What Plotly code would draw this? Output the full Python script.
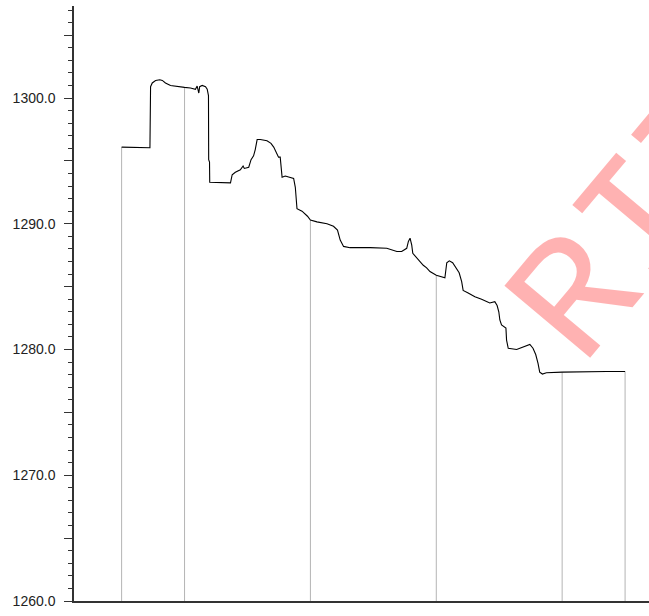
import plotly.graph_objects as go

# minutes after 09:30
minutes = [0, 13.5, 13.8, 14.6, 16.2, 18.2, 19.4, 20.9, 23.3, 26.5, 30, 32.8, 35.2, 36.0, 36.5, 36.8,
           37.2, 38.4, 40.0, 40.8, 41.4, 41.5, 41.9, 42.0, 51.9, 52.7, 54.2, 56.6, 57.9, 58.5, 60.6,
           61.7, 62.9, 63.7, 64.6, 66.1, 69.3, 71.2, 72.5, 73.7, 74.8, 75.6, 76.5, 78.0, 80.4, 82.0,
           82.8, 83.6, 86.0, 88.6, 90, 93.1, 97.9, 101.0, 102.9, 104.2, 105.8, 108.9, 118.5, 126.4,
           131.2, 133.5, 135.9, 136.7, 137.5, 138.3, 138.8, 140.7, 142.2, 143.8, 145.4, 147.0, 150,
           154.1, 155.0, 156.2, 157.8, 159.4, 160.9, 162.1, 162.8, 165.2, 168.4, 171.6, 174.0, 175.5,
           177.9, 179.0, 179.8, 180.3, 181.1, 183.2, 183.5, 184.3, 188.3, 189.8, 192.2, 194.6, 196.1,
           197.4, 198.5, 199.3, 200.6, 202.5, 210, 221.6, 231.1, 240]
price = [1296.1, 1296.05, 1300.9, 1301.2, 1301.4, 1301.45, 1301.4, 1301.2, 1301.0, 1300.9, 1300.85,
         1300.8, 1300.7, 1300.95, 1300.6, 1300.4, 1300.9, 1301.0, 1300.9, 1300.7, 1300.2, 1295.1,
         1294.9, 1293.3, 1293.25, 1293.9, 1294.1, 1294.3, 1294.6, 1294.4, 1294.5, 1295.1, 1295.4,
         1295.9, 1296.7, 1296.7, 1296.6, 1296.4, 1296.1, 1295.7, 1295.3, 1295.3, 1293.7, 1293.8,
         1293.7, 1293.6, 1292.9, 1291.2, 1291.0, 1290.6, 1290.3, 1290.15, 1290.0, 1289.8, 1289.5,
         1288.7, 1288.2, 1288.1, 1288.1, 1288.05, 1287.8, 1287.8, 1288.05, 1288.6, 1288.85, 1288.3,
         1287.65, 1287.3, 1287.0, 1286.7, 1286.5, 1286.2, 1285.9, 1285.7, 1286.9, 1287.05, 1286.9,
         1286.5, 1286.1, 1285.4, 1284.7, 1284.5, 1284.2, 1284.0, 1283.8, 1283.7, 1283.8, 1283.5,
         1283.0, 1282.35, 1281.95, 1281.7, 1280.75, 1280.1, 1280.0, 1280.1, 1280.2, 1280.4, 1280.1,
         1279.6, 1278.9, 1278.2, 1278.05, 1278.15, 1278.2, 1278.25, 1278.25, 1278.25]

# session markers (minutes after 09:30): 09:30, 10:00, 11:00, 12:00, 13:00, 13:30
marker_minutes = [0, 30, 90, 150, 210, 240]

watermark = "RIT"

y_min, y_max = 1260, 1307.32
x_min, x_max = -22.7, 251.4

tick_vals = [1260 + 5 * i for i in range(10)]
tick_text = [f"{v:.1f}" if v % 10 == 0 else "" for v in tick_vals]

drop_x, drop_y = [], []
for m in marker_minutes:
    v = price[minutes.index(m)]
    drop_x += [m, m, None]
    drop_y += [y_min, v, None]

fig = go.Figure()
fig.add_trace(go.Scatter(x=drop_x, y=drop_y, mode="lines",
                         line=dict(color="#b4b4b4", width=1), hoverinfo="skip"))
fig.add_trace(go.Scatter(x=minutes, y=price, mode="lines",
                         line=dict(color="#000000", width=1.1)))

fig.add_annotation(text=watermark, xref="paper", yref="paper", x=0.993, y=0.638,
                   xanchor="center", yanchor="middle", showarrow=False, textangle=-50,
                   font=dict(family="Liberation Mono", size=170, color="rgba(255,0,0,0.3)"))

fig.update_layout(
    width=649, height=616,
    margin=dict(l=74, r=0, t=6, b=15),
    paper_bgcolor="white", plot_bgcolor="white",
    showlegend=False,
    font=dict(family="Liberation Sans", size=14, color="#222222"),
)
fig.update_xaxes(range=[x_min, x_max], showgrid=False, zeroline=False, showticklabels=False,
                 ticks="", showline=True, linecolor="#333333", linewidth=1.5)
fig.update_yaxes(range=[y_min, y_max], showgrid=False, zeroline=False,
                 tickmode="array", tickvals=tick_vals, ticktext=tick_text,
                 ticks="outside", ticklen=8, tickcolor="#333333", tickwidth=1,
                 ticklabelstandoff=6,
                 showline=True, linecolor="#333333", linewidth=1.5,
                 minor=dict(dtick=1, tick0=1260, ticks="outside", ticklen=4,
                            tickcolor="#333333", tickwidth=1, showgrid=False))

fig.write_html("out.html", config={"displayModeBar": False},
               post_script="document.body.style.margin='0px';")
